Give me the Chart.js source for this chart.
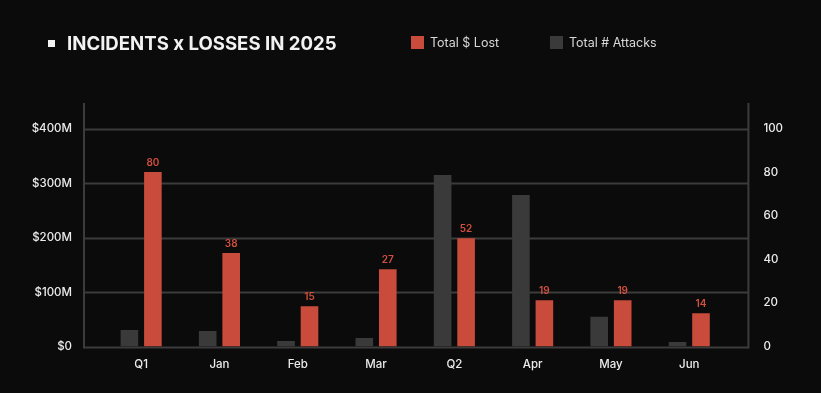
<!DOCTYPE html>
<html>
<head>
<meta charset="utf-8">
<script src="https://cdn.jsdelivr.net/npm/chart.js@4"></script>
<style>
  html, body { margin: 0; padding: 0; background: #0b0b0b; }
  #wrap { position: relative; width: 821px; height: 393px; overflow: hidden; }
  #chart { position: absolute; left: 0; top: 0; }
  .title {
    position: absolute; left: 48px; top: 32px;
    color: #f2f2f2; font-family: Inter, sans-serif; font-weight: 700;
    font-size: 18.6px; letter-spacing: 0; white-space: nowrap;
  }
  .title .dot { display: inline-block; width: 7px; height: 7px; background: #f2f2f2; margin-right: 12px; vertical-align: 3px; }
  .legend { position: absolute; top: 35px; font-family: Inter, sans-serif; font-size: 12.5px; color: #d8d8d8; white-space: nowrap; }
  .legend .box { display: inline-block; width: 13px; height: 13px; margin-right: 6px; vertical-align: -2px; }
</style>
</head>
<body>
<div id="wrap">
  <canvas id="chart" width="821" height="393"></canvas>
  <div class="title"><span class="dot"></span>INCIDENTS x LOSSES IN 2025</div>
  <div id="legend"></div>
</div>
<script>
const categories = ['Q1', 'Jan', 'Feb', 'Mar', 'Q2', 'Apr', 'May', 'Jun'];
const totalLost = [321, 172, 74, 142, 199, 85, 85, 61];          // $M, left axis
const lostLabels = [80, 38, 15, 27, 52, 19, 19, 14];            // numbers printed over red bars
const totalAttacks = [7.6, 7.1, 2.5, 3.9, 78.9, 69.7, 13.7, 2.1]; // right axis
const lostTicks = [0, 100, 200, 300, 400];
const attackTicks = [0, 20, 40, 60, 80, 100];

const RED = '#c94b3b';
const GREY = '#3a3a3a';
const LINE = '#3c3c3c';
const TEXT = '#ececec';

const legendItems = [
  { label: 'Total $ Lost', color: RED, left: 411 },
  { label: 'Total # Attacks', color: GREY, left: 550 }
];
const legendEl = document.getElementById('legend');
legendItems.forEach(it => {
  legendEl.insertAdjacentHTML('beforeend',
    `<div class="legend" style="left:${it.left}px"><span class="box" style="background:${it.color}"></span>${it.label}</div>`);
});

// horizontal grid + frame, extended a bit past the plot like the original
const framePlugin = {
  id: 'frame',
  beforeDatasetsDraw(chart) {
    const { ctx, chartArea: a, scales } = chart;
    const x0 = a.left - 18, x1 = a.right + 20;
    ctx.save();
    ctx.strokeStyle = LINE;
    ctx.lineWidth = 2;
    lostTicks.forEach(v => {
      const y = Math.round(scales.y.getPixelForValue(v)) + 0.5;
      ctx.beginPath(); ctx.moveTo(x0, y); ctx.lineTo(x1, y); ctx.stroke();
    });
    const yb = Math.round(scales.y.getPixelForValue(0)) + 0.5;
    [x0, x1].forEach(x => {
      ctx.beginPath(); ctx.moveTo(x, a.top - 26); ctx.lineTo(x, yb + 1); ctx.stroke();
    });
    ctx.restore();
  }
};

const valueLabels = {
  id: 'valueLabels',
  afterDatasetsDraw(chart) {
    const { ctx } = chart;
    const meta = chart.getDatasetMeta(1);
    ctx.save();
    ctx.fillStyle = '#d3503f';
    ctx.font = '600 10px Inter, sans-serif';
    ctx.textAlign = 'center';
    ctx.textBaseline = 'bottom';
    meta.data.forEach((bar, i) => {
      ctx.fillText(lostLabels[i], bar.x, bar.y - 4);
    });
    ctx.restore();
  }
};

const tickFont = { family: 'Inter, sans-serif', size: 11.5, weight: '500' };

new Chart(document.getElementById('chart'), {
  type: 'bar',
  data: {
    labels: categories,
    datasets: [
      {
        label: 'Total # Attacks',
        data: totalAttacks,
        backgroundColor: GREY,
        yAxisID: 'y2',
        categoryPercentage: 0.6,
        barPercentage: 0.75
      },
      {
        label: 'Total $ Lost',
        data: totalLost,
        backgroundColor: RED,
        yAxisID: 'y',
        categoryPercentage: 0.6,
        barPercentage: 0.75
      }
    ]
  },
  options: {
    responsive: false,
    animation: false,
    layout: { padding: { top: 129, left: 0, right: 0, bottom: 0 } },
    plugins: {
      legend: { display: false },
      tooltip: { enabled: false }
    },
    scales: {
      x: {
        grid: { display: false },
        border: { display: false },
        ticks: { color: TEXT, font: tickFont, padding: 3 },
        afterFit(s) { s.height = 46.5; }
      },
      y: {
        position: 'left',
        min: 0,
        max: 400,
        grid: { display: false, drawTicks: false },
        border: { display: false },
        ticks: {
          stepSize: 100,
          color: TEXT,
          font: tickFont,
          padding: 30,
          callback: v => v === 0 ? '$0' : '$' + v + 'M'
        },
        afterFit(s) { s.width = 102; }
      },
      y2: {
        position: 'right',
        min: 0,
        max: 100,
        grid: { display: false, drawTicks: false },
        border: { display: false },
        ticks: { stepSize: 20, color: TEXT, font: tickFont, padding: 35 },
        afterFit(s) { s.width = 92.6; }
      }
    }
  },
  plugins: [framePlugin, valueLabels]
});
</script>
</body>
</html>
